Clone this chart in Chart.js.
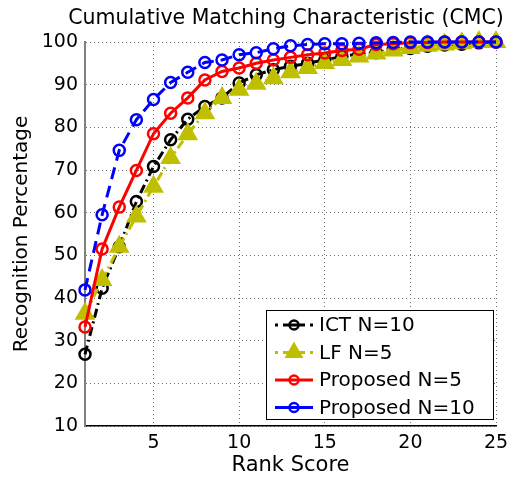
<!DOCTYPE html>
<html>
<head>
<meta charset="utf-8">
<script src="https://cdn.jsdelivr.net/npm/chart.js@4/dist/chart.umd.min.js"></script>
<style>
  html, body { margin: 0; padding: 0; background: #fff; }
  #wrap { width: 517px; height: 482px; }
</style>
</head>
<body>
<div id="wrap"><canvas id="cmc"></canvas></div>
<script>
// rank 1..25
const ranks = Array.from({length: 25}, (_, i) => i + 1);
const xTicks = [5, 10, 15, 20, 25];

const ictN10 = [26.8, 42.3, 52.0, 62.6, 70.8, 77.1, 81.9, 84.9, 86.9, 90.4, 92.3, 93.5, 94.3,
                95.0, 95.8, 96.6, 97.2, 97.5, 98.3, 98.5, 99.0, 99.3, 99.5, 99.8, 100];
const lfN5 = [36.3, 44.2, 52.0, 59.1, 66.1, 72.8, 78.4, 83.3, 86.9, 88.8, 90.2, 91.5, 92.9,
              93.9, 95.1, 95.8, 96.6, 97.3, 98.0, 98.6, 99.1, 99.4, 99.7, 100, 100];
const propN5 = [33.2, 51.5, 61.3, 69.9, 78.5, 83.3, 86.9, 91.1, 93.1, 93.9, 95.0, 95.8, 96.4,
                97.0, 97.4, 98.0, 98.3, 99.4, 99.6, 99.8, 99.9, 100, 100, 100, 100];
const propN10 = [41.9, 59.5, 74.6, 81.8, 86.5, 90.5, 92.9, 95.2, 95.8, 97.0, 97.5, 98.4, 99.1,
                 99.4, 99.6, 99.6, 99.7, 99.8, 99.9, 100, 100, 100, 100, 100, 100];

const FONT = 'DejaVu Sans';
const DASH_DOT = [9, 4, 2, 4];

function series(label, values, color, dash, style, radius, fill, order) {
  return {
    label: label,
    data: ranks.map((r, i) => ({x: r, y: values[i]})),
    borderColor: color,
    borderWidth: 3,
    borderDash: dash,
    pointStyle: style,
    pointRadius: radius,
    pointBorderWidth: 2.5,
    pointBorderColor: color,
    pointBackgroundColor: fill,
    pointHoverRadius: radius,
    clip: false,
    order: order
  };
}

const datasets = [
  series('ICT N=10', ictN10, '#000000', DASH_DOT, 'circle', 5.5, 'rgba(0,0,0,0)', 3),
  series('LF N=5', lfN5, '#bfbf00', DASH_DOT, 'triangle', 9.5, '#bfbf00', 2),
  series('Proposed N=5', propN5, '#ff0000', [], 'circle', 5.5, 'rgba(0,0,0,0)', 1),
  series('Proposed N=10', propN10, '#0000ff', [12, 7], 'circle', 5.5, 'rgba(0,0,0,0)', 0)
];

// title + boxed legend with line samples
const decorations = {
  id: 'decorations',
  afterDraw(chart) {
    const ctx = chart.ctx;
    ctx.save();
    ctx.fillStyle = '#000';
    ctx.font = '20.5px "' + FONT + '"';
    ctx.textAlign = 'center';
    ctx.textBaseline = 'middle';
    ctx.fillText('Cumulative Matching Characteristic (CMC)', 286, 19);

    const bx = 266, by = 310, bw = 227, bh = 109;
    ctx.fillStyle = '#fff';
    ctx.fillRect(bx, by, bw, bh);
    ctx.strokeStyle = '#000';
    ctx.lineWidth = 1;
    ctx.strokeRect(bx + 0.5, by + 0.5, bw, bh);

    chart.data.datasets.forEach((ds, i) => {
      const y = by + 15 + i * 27.5;
      ctx.save();
      ctx.strokeStyle = ds.borderColor;
      ctx.lineWidth = ds.borderWidth;
      // dash-dot samples: dot, long dash through the marker, dot
      ctx.setLineDash(ds.borderDash === DASH_DOT ? [3, 5, 22, 5, 3] : []);
      ctx.beginPath();
      ctx.moveTo(275, y);
      ctx.lineTo(313, y);
      ctx.stroke();
      ctx.setLineDash([]);
      ctx.fillStyle = ds.pointBackgroundColor;
      ctx.lineWidth = ds.pointBorderWidth;
      Chart.helpers.drawPoint(ctx, {
        pointStyle: ds.pointStyle,
        radius: ds.pointStyle === 'triangle' ? 8.5 : 4.5,
        borderWidth: ds.pointBorderWidth
      }, 294, y);
      ctx.restore();
      ctx.fillStyle = '#000';
      ctx.font = '20px "' + FONT + '"';
      ctx.textAlign = 'left';
      ctx.textBaseline = 'middle';
      ctx.fillText(ds.label, 319, y + 1);
    });
    ctx.restore();
  }
};

new Chart(document.getElementById('cmc'), {
  type: 'line',
  data: {datasets: datasets},
  options: {
    responsive: true,
    maintainAspectRatio: false,
    animation: false,
    layout: {padding: {top: 42, right: 21, left: 0, bottom: 0}},
    plugins: {
      legend: {display: false},
      tooltip: {enabled: false}
    },
    scales: {
      x: {
        type: 'linear',
        min: 1,
        max: 25,
        afterBuildTicks: axis => { axis.ticks = xTicks.map(v => ({value: v})); },
        afterFit: axis => { axis.height = 56; },
        grid: {color: '#6f6f6f', lineWidth: 1, drawTicks: false},
        border: {display: true, color: '#000', width: 1.5, dash: [1, 3]},
        ticks: {
          color: '#000',
          padding: 6,
          maxRotation: 0,
          font: {family: FONT, size: 19}
        },
        title: {
          display: true,
          text: 'Rank Score',
          color: '#000',
          padding: {top: 0, bottom: 4},
          font: {family: FONT, size: 21}
        }
      },
      y: {
        min: 10,
        max: 100,
        afterFit: axis => { axis.width = 85; },
        ticks: {
          stepSize: 10,
          color: '#000',
          padding: 7,
          font: {family: FONT, size: 19}
        },
        grid: {color: '#6f6f6f', lineWidth: 1, drawTicks: false},
        border: {display: true, color: '#808080', width: 2, dash: [1, 3]},
        title: {
          display: true,
          text: 'Recognition Percentage',
          color: '#000',
          padding: {top: 10, bottom: 0},
          font: {family: FONT, size: 20}
        }
      }
    }
  },
  plugins: [decorations]
});
</script>
</body>
</html>
